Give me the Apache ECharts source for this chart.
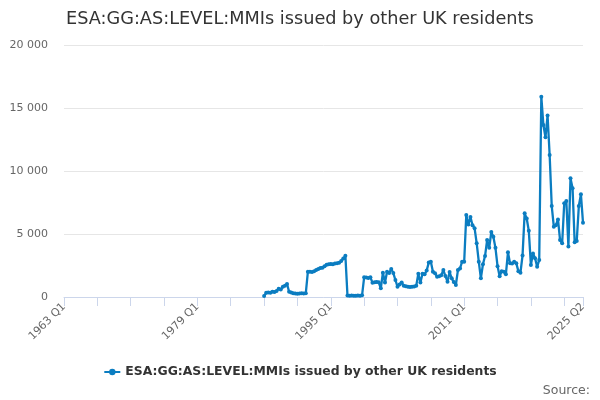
<!DOCTYPE html>
<html>
<head>
<meta charset="utf-8">
<script src="https://cdn.jsdelivr.net/npm/echarts@6/dist/echarts.min.js"></script>
<style>
  html, body { margin: 0; padding: 0; background: #fff; }
  #chart { width: 600px; height: 400px; }
</style>
</head>
<body>
<div id="chart"></div>
<script>
// quarters 1963 Q1 .. 2025 Q2
var firstYear = 1963;
var quarters = [];
for (var y = firstYear; y <= 2025; y++) {
  for (var q = 1; q <= 4; q++) {
    if (y === 2025 && q > 2) break;
    quarters.push(y + ' Q' + q);
  }
}

// series starts at 1987 Q1
var seriesStart = '1987 Q1';
var mmiValues = [
  80, 330, 350, 330, 420, 400, 480, 650, 600, 820, 900, 1030, 420, 350, 300, 280, 250, 270, 300, 280, 290,
  2000, 2010, 1980, 2050, 2150, 2220, 2300, 2330, 2450, 2550, 2600, 2620, 2600, 2650, 2680, 2720, 2850, 3050, 3280,
  120, 100, 110, 100, 90, 110, 100, 130,
  1560, 1540, 1500, 1560, 1140, 1180, 1200, 1170, 690, 1930, 1150, 2000, 1900, 2230, 1900, 1350, 820, 1000, 1150,
  900, 850, 820, 800, 820, 830, 900, 1840, 1150, 1840, 1800, 2100, 2730, 2800,
  2000, 1880, 1610, 1650, 1720, 2140, 1660, 1215, 1980, 1480, 1200, 950, 2140, 2270, 2800, 2800,
  6510, 5750, 6350, 5700, 5450, 4260, 2800, 1480, 2600, 3250, 4520, 3900, 5150, 4780, 3900, 2450, 1650, 2050,
  2000, 1800, 3550, 2670, 2650, 2800, 2670, 2050, 1930, 3300, 6640, 6230, 5250, 2540, 3460, 3070, 2400, 2930,
  15900, 13650, 12680, 14400, 11270, 7220, 5580, 5700, 6160, 4520, 4260, 7440, 7620, 4000, 9420, 8630, 4340,
  4440, 7220, 8150, 5900
];

var yTicks = [0, 5000, 10000, 15000, 20000];
var seriesName = 'ESA:GG:AS:LEVEL:MMIs issued by other UK residents';

var startIdx = quarters.indexOf(seriesStart);
var seriesData = quarters.map(function (c, i) {
  var v = mmiValues[i - startIdx];
  return v === undefined ? null : v;
});
var last = quarters.length - 1;

var font = 'DejaVu Sans';
var myChart = echarts.init(document.getElementById('chart'));
var options = {
  animation: false,
  title: {
    text: seriesName,
    left: 61,
    top: 5,
    textStyle: { fontFamily: font, fontSize: 17.7, fontWeight: 'normal', color: '#333' }
  },
  grid: { left: 64, right: 17, top: 45, bottom: 103 },
  legend: {
    bottom: 17,
    left: 'center',
    itemWidth: 16,
    itemHeight: 8,
    itemGap: 5,
    textStyle: { fontFamily: font, fontSize: 12.4, fontWeight: 'bold', color: '#333' },
    data: [seriesName]
  },
  graphic: [{
    type: 'text',
    right: 10,
    bottom: 3,
    style: { text: 'Source:', fontFamily: font, fontSize: 12.5, fill: '#666' }
  }],
  xAxis: {
    type: 'category',
    boundaryGap: false,
    data: quarters,
    axisLine: { lineStyle: { color: '#ccd6eb' } },
    axisTick: {
      length: 9,
      lineStyle: { color: '#ccd6eb' },
      interval: function (i) { return i % 16 === 0 || i === last; }
    },
    axisLabel: {
      rotate: 45,
      fontFamily: font,
      fontSize: 11,
      color: '#666',
      margin: 8,
      showMaxLabel: true,
      interval: function (i) { return i % 64 === 0 || i === last; }
    },
    splitLine: { show: false }
  },
  yAxis: {
    type: 'value',
    min: yTicks[0],
    max: yTicks[yTicks.length - 1],
    interval: 5000,
    axisLine: { show: false },
    axisTick: { show: false },
    axisLabel: {
      fontFamily: font,
      fontSize: 11,
      color: '#666',
      margin: 16,
      formatter: function (v) { return String(v).replace(/\B(?=(\d{3})+(?!\d))/g, ' '); }
    },
    splitLine: { lineStyle: { color: '#e6e6e6' } }
  },
  series: [{
    name: seriesName,
    type: 'line',
    data: seriesData,
    symbol: 'circle',
    symbolSize: 4,
    showAllSymbol: true,
    connectNulls: false,
    itemStyle: { color: '#0b7dc1' },
    lineStyle: { width: 2.3, color: '#0b7dc1' }
  }]
};
myChart.setOption(options);
</script>
</body>
</html>
